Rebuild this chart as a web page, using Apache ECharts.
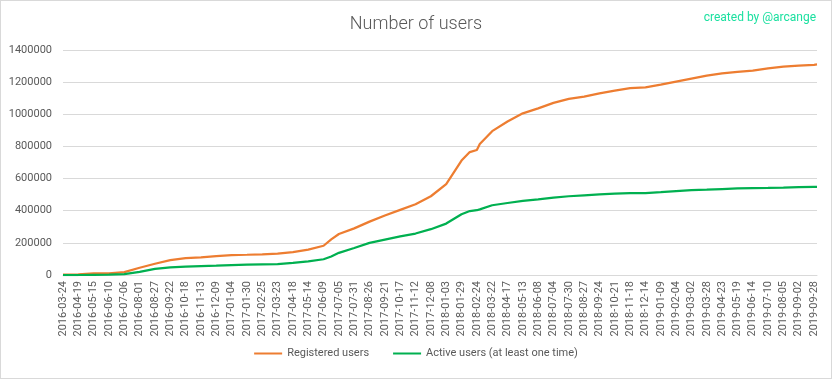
<!DOCTYPE html>
<html>
<head>
<meta charset="utf-8">
<script src="https://cdn.jsdelivr.net/npm/echarts@6/dist/echarts.min.js"></script>
<style>
html,body{margin:0;padding:0;background:#fff;}
#c{position:absolute;left:0;top:0;width:830px;height:377px;border:1px solid #d9d9d9;}
</style>
</head>
<body>
<div id="c"></div>
<script>
// Tick labels (every 26th day category of the original chart)
const tickLabels = ["2016-03-24","2016-04-19","2016-05-15","2016-06-10","2016-07-06","2016-08-01","2016-08-27","2016-09-22","2016-10-18","2016-11-13","2016-12-09","2017-01-04","2017-01-30","2017-02-25","2017-03-23","2017-04-18","2017-05-14","2017-06-09","2017-07-05","2017-07-31","2017-08-26","2017-09-21","2017-10-17","2017-11-12","2017-12-08","2018-01-03","2018-01-29","2018-02-24","2018-03-22","2018-04-17","2018-05-13","2018-06-08","2018-07-04","2018-07-30","2018-08-27","2018-09-24","2018-10-21","2018-11-18","2018-12-14","2019-01-09","2019-02-04","2019-03-02","2019-03-28","2019-04-23","2019-05-19","2019-06-14","2019-07-10","2019-08-05","2019-09-02","2019-09-28"];
// Category index of each sampled point (label positions, a few extra points, last day)
const sampleIndex = [0,26,52,78,104,130,156,182,208,234,260,286,312,338,364,390,416,442,455,468,494,520,546,572,598,624,650,676,690,702,707,728,754,780,806,832,858,884,910,936,962,988,1014,1040,1066,1092,1118,1144,1170,1196,1222,1248,1274,1279];
const registered = [2000,4000,10000,10000,18000,45000,70000,93000,105000,110000,118000,124000,126000,129000,133000,143000,158000,182000,222000,255000,290000,332000,370000,405000,440000,490000,565000,712000,765000,778000,815000,895000,955000,1006000,1037000,1071000,1096000,1110000,1130000,1147000,1163000,1168000,1184000,1203000,1222000,1240000,1254000,1264000,1272000,1285000,1296000,1303000,1308000,1310000];
const active = [0,0,1000,2000,5000,20000,38000,48000,52000,55000,58000,62000,64000,66000,68000,75000,85000,98000,115000,138000,168000,200000,220000,240000,258000,285000,320000,378000,398000,403000,408000,434000,448000,461000,471000,482000,490000,496000,502000,506000,509000,510000,515000,522000,528000,531000,535000,539000,541000,542000,544000,547000,548000,548000];
const lastIndex = 1279;

const chart = echarts.init(document.getElementById('c'));
const font = 'Roboto, "Open Sans", sans-serif';
chart.setOption({
  animation: false,
  textStyle: {fontFamily: font},
  title: [
    {text: 'Number of users', left: 'center', top: 9,
     textStyle: {fontFamily: font, fontSize: 18, fontWeight: 300, color: '#595959'}},
    {text: 'created by @arcange', right: 10, top: 6,
     textStyle: {fontFamily: font, fontSize: 12, fontWeight: 'normal', color: '#1BE0A0'}}
  ],
  legend: {
    bottom: 14, left: 'center', itemWidth: 28, itemHeight: 2, itemGap: 24,
    icon: 'rect',
    textStyle: {color: '#595959', fontSize: 11, fontFamily: font},
    data: ['Registered users', 'Active users (at least one time)']
  },
  grid: {left: 62, right: 14, top: 49, bottom: 103, containLabel: false},
  xAxis: {
    type: 'value', min: 0, max: lastIndex, interval: 26,
    axisLine: {show: true, lineStyle: {color: '#d9d9d9', width: 1}},
    axisTick: {show: false},
    splitLine: {show: false},
    axisLabel: {
      rotate: 90, margin: 6, color: '#595959', fontSize: 11, fontFamily: font,
      showMaxLabel: false,
      formatter: v => (v % 26 === 0 && tickLabels[v / 26]) ? tickLabels[v / 26] : ''
    }
  },
  yAxis: {
    type: 'value', min: 0, max: 1400000, interval: 200000,
    axisLine: {show: false}, axisTick: {show: false},
    splitLine: {lineStyle: {color: '#d9d9d9', width: 1}},
    axisLabel: {color: '#595959', fontSize: 11, margin: 11, fontFamily: font,
      formatter: v => String(v)}
  },
  series: [
    {name: 'Registered users', type: 'line', symbol: 'none',
     lineStyle: {color: '#ED7D31', width: 2.25}, itemStyle: {color: '#ED7D31'},
     data: sampleIndex.map((x, i) => [x, registered[i]])},
    {name: 'Active users (at least one time)', type: 'line', symbol: 'none',
     lineStyle: {color: '#00B050', width: 2.25}, itemStyle: {color: '#00B050'},
     data: sampleIndex.map((x, i) => [x, active[i]])}
  ]
});
</script>
</body>
</html>
